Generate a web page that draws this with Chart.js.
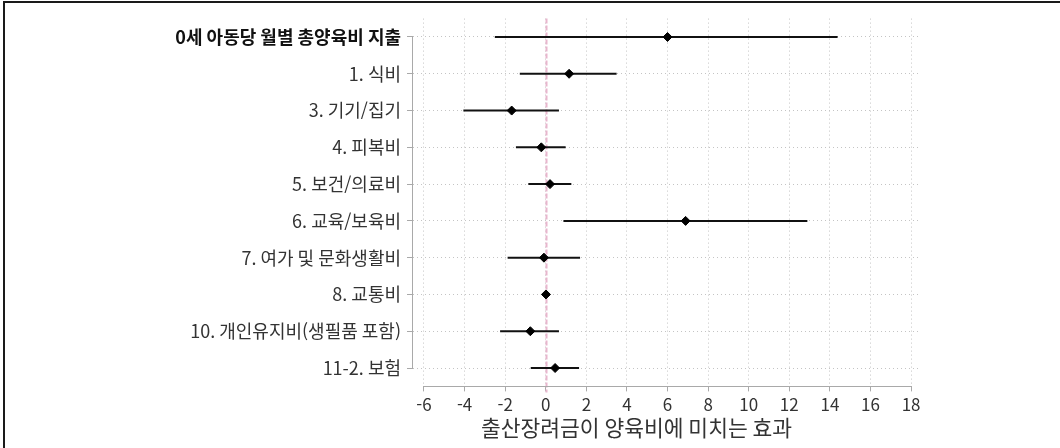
<!DOCTYPE html>
<html lang="ko">
<head>
<meta charset="utf-8">
<title>출산장려금이 양육비에 미치는 효과</title>
<script src="https://cdn.jsdelivr.net/npm/chart.js@4.4.1/dist/chart.umd.min.js"></script>
<style>
  html, body { margin: 0; padding: 0; background: #fff; overflow: hidden; }
  #wrap { position: relative; width: 1060px; height: 448px; }
  #frame {
    position: absolute; left: 3px; top: 1px; width: 1200px; height: 600px;
    border-left: 2px solid #1a1a1a; border-top: 2px solid #1a1a1a;
    pointer-events: none;
  }
  canvas { position: absolute; left: 0; top: 0; }
</style>
</head>
<body>
<div id="wrap">
  <canvas id="chart" width="1060" height="448"></canvas>
  <div id="frame"></div>
</div>
<script>
// Expenditure categories (top to bottom)
const categories = [
  '0세 아동당 월별 총양육비 지출',
  '1. 식비',
  '3. 기기/집기',
  '4. 피복비',
  '5. 보건/의료비',
  '6. 교육/보육비',
  '7. 여가 및 문화생활비',
  '8. 교통비',
  '10. 개인유지비(생필품 포함)',
  '11-2. 보험'
];
// Point estimates and confidence bounds
const estimates = [6.00, 1.15, -1.68, -0.22, 0.21, 6.89, -0.09, 0.01, -0.76, 0.46];
const lowerCI   = [-2.51, -1.28, -4.06, -1.47, -0.86, 0.87, -1.88, -0.15, -2.25, -0.74];
const upperCI   = [14.38, 3.49, 0.65, 0.98, 1.26, 12.89, 1.69, 0.17, 0.65, 1.64];
// Horizontal axis ticks
const xTicks = [-6, -4, -2, 0, 2, 4, 6, 8, 10, 12, 14, 16, 18];
const xTitle = '출산장려금이 양육비에 미치는 효과';
const refValue = 0;

const FONT = "'Noto Sans CJK KR', 'Noto Sans', sans-serif";

const ciSets = categories.map((c, i) => ({
  label: c,
  data: [{ x: lowerCI[i], y: i }, { x: upperCI[i], y: i }],
  showLine: true,
  borderColor: '#111',
  borderWidth: 2,
  pointRadius: 0,
  order: 2
}));

const pointSet = {
  label: 'estimate',
  data: estimates.map((v, i) => ({ x: v, y: i })),
  showLine: false,
  pointStyle: 'rectRot',
  pointRadius: 4.5,
  backgroundColor: '#000',
  borderColor: '#000',
  borderWidth: 1,
  order: 1
};

// Axis lines, zero reference line and the horizontal axis title
const decorations = {
  id: 'decorations',
  beforeDatasetsDraw(chart) {
    const { ctx, chartArea, scales: { x, y } } = chart;
    ctx.save();
    // reference line at zero
    const zx = Math.round(x.getPixelForValue(refValue)) + 0.5;
    ctx.strokeStyle = '#e8b6cd';
    ctx.lineWidth = 2;
    ctx.setLineDash([5, 2]);
    ctx.beginPath();
    ctx.moveTo(zx, chartArea.top);
    ctx.lineTo(zx, chartArea.bottom + 6);
    ctx.stroke();
    ctx.setLineDash([]);
    // vertical axis line spanning the categories
    ctx.strokeStyle = '#a9a9a9';
    ctx.lineWidth = 1;
    const ax = Math.round(chartArea.left) - 0.5;
    ctx.beginPath();
    ctx.moveTo(ax, y.getPixelForValue(0));
    ctx.lineTo(ax, y.getPixelForValue(categories.length - 1));
    ctx.stroke();
    // horizontal axis line spanning the ticks
    const by = Math.round(chartArea.bottom) + 0.5;
    ctx.beginPath();
    ctx.moveTo(x.getPixelForValue(xTicks[0]), by);
    ctx.lineTo(x.getPixelForValue(xTicks[xTicks.length - 1]), by);
    ctx.stroke();
    ctx.restore();
  },
  afterDraw(chart) {
    const { ctx, chartArea } = chart;
    ctx.save();
    ctx.font = '21.5px ' + FONT;
    ctx.fillStyle = '#333';
    ctx.textAlign = 'center';
    ctx.textBaseline = 'middle';
    const cx = (chartArea.left + chartArea.right) / 2 - 30;
    ctx.fillText(xTitle, cx, chartArea.bottom + 41);
    ctx.restore();
  }
};

new Chart(document.getElementById('chart'), {
  type: 'scatter',
  data: { datasets: [...ciSets, pointSet] },
  plugins: [decorations],
  options: {
    responsive: false,
    devicePixelRatio: 1,
    animation: false,
    layout: { padding: { top: 18.6, right: 140, left: 0, bottom: 0 } },
    plugins: { legend: { display: false }, tooltip: { enabled: false } },
    scales: {
      x: {
        type: 'linear',
        min: -6.542,
        max: 18.44,
        afterBuildTicks: s => { s.ticks = xTicks.map(v => ({ value: v })); },
        afterFit: s => { s.height = 61.6; },
        border: { display: false, dash: [1, 3] },
        grid: {
          color: '#c4c4c4',
          lineWidth: 1,
          drawTicks: true,
          tickLength: 5,
          tickColor: '#a9a9a9',
          tickBorderDash: []
        },
        ticks: {
          padding: 3,
          color: '#333',
          font: { family: FONT, size: 17 },
          maxRotation: 0,
          callback: v => String(v)
        }
      },
      y: {
        type: 'linear',
        reverse: true,
        min: -0.5,
        max: categories.length - 0.5,
        afterBuildTicks: s => { s.ticks = categories.map((c, i) => ({ value: i })); },
        afterFit: s => { s.width = 413; },
        border: { display: false, dash: [1, 3] },
        grid: {
          color: '#c4c4c4',
          lineWidth: 1,
          drawTicks: true,
          tickLength: 6,
          tickColor: '#a9a9a9',
          tickBorderDash: []
        },
        ticks: {
          padding: 6,
          color: c => (c.tick && c.tick.value === 0) ? '#111' : '#333',
          font: c => ({
            family: FONT,
            size: 18,
            weight: (c.tick && c.tick.value === 0) ? 'bold' : 'normal'
          }),
          autoSkip: false,
          callback: v => categories[v]
        }
      }
    }
  }
});
</script>
</body>
</html>
